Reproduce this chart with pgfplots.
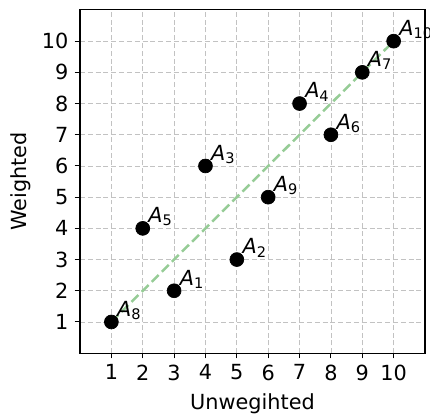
\documentclass[border=0pt]{standalone}
\usepackage{fontspec}
\setmainfont{DejaVu Sans}
\usepackage{pgfplots}
\pgfplotsset{compat=1.18}
\usetikzlibrary{calc}
\definecolor{lgreen}{RGB}{150,204,150}
\newcommand\fs{\fontsize{11.7}{14}\selectfont}
\begin{document}
\begin{tikzpicture}
\begin{axis}[
  width=194pt, height=193pt, scale only axis,
  xmin=0, xmax=11, ymin=0, ymax=11,
  xtick={1,...,10}, ytick={1,...,10},
  tick align=outside, tick pos=left,
  major tick length=3pt,
  grid=major,
  grid style={black!24, dash pattern=on 2.8pt off 1.6pt, line width=0.45pt},
  axis line style={line width=0.6pt},
  tick style={black, line width=0.6pt},
  xlabel={Unwegihted}, ylabel={Weighted},
  /pgf/number format/assume math mode=true,
  tick label style={font=\fs},
  label style={font=\fs},
  xlabel style={at={(axis description cs:0.5,-0.148)}, anchor=center},
  ylabel style={at={(axis description cs:-0.172,0.5)}, anchor=center},
]
\addplot[color=lgreen, dash pattern=on 5.5pt off 2.5pt, line width=1.4pt] coordinates {(1,1) (10,10)};
\addplot[only marks, mark=*, mark size=3.9pt, black,
  nodes near coords, point meta=explicit symbolic,
  nodes near coords style={anchor=base west, xshift=3pt, yshift=3.2pt, inner sep=0pt, font=\fs, text=black}]
coordinates {
 (3,2) [{\itshape A}\textsubscript{1}]
 (5,3) [{\itshape A}\textsubscript{2}]
 (4,6) [{\itshape A}\textsubscript{3}]
 (7,8) [{\itshape A}\textsubscript{4}]
 (2,4) [{\itshape A}\textsubscript{5}]
 (8,7) [{\itshape A}\textsubscript{6}]
 (9,9) [{\itshape A}\textsubscript{7}]
 (1,1) [{\itshape A}\textsubscript{8}]
 (6,5) [{\itshape A}\textsubscript{9}]
 (10,10) [{\itshape A}\textsubscript{10}]
};
\end{axis}
\pgfresetboundingbox
\path ($(current axis.south west)+(-45pt,-35.4pt)$) rectangle ($(current axis.north east)+(2.8pt,5.6pt)$);
\end{tikzpicture}
\end{document}
